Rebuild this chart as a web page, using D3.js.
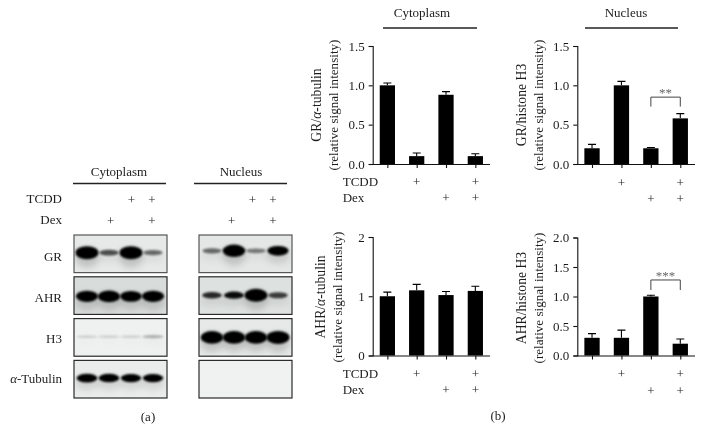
<!DOCTYPE html>
<meta charset="utf-8">
<style>
    body { margin: 0; background: #fff; }
    svg { display: block; filter: blur(0.3px); }
    text { font-family: "Liberation Serif", serif; font-size: 13px; fill: #1c1c1c; }
    .domain, .tick line { stroke: #111; stroke-width: 1.1; }
</style>
<script src="https://d3js.org/d3.v7.min.js"></script>
<div id="fig"></div>
<script>
// bar chart values
const grCyto = [1.0, 0.1, 0.88, 0.1];
const grCytoErr = [0.03, 0.04, 0.04, 0.03];
const grNuc = [0.2, 1.0, 0.2, 0.58];
const grNucErr = [0.05, 0.05, 0.01, 0.06];
const ahrCyto = [1.0, 1.1, 1.02, 1.09];
const ahrCytoErr = [0.07, 0.1, 0.06, 0.08];
const ahrNuc = [0.3, 0.3, 1.0, 0.2];
const ahrNucErr = [0.07, 0.13, 0.02, 0.08];
const lanes = [0, 1, 2, 3];
const tcdd = ["", "+", "", "+"];
const dex = ["", "", "+", "+"];
const tcddBlot = ["", "", "+", "+"];
const dexBlot = ["", "+", "", "+"];
const ticks15 = [0, 0.5, 1, 1.5];
const ticks2 = [0, 1, 2];
const ticks20 = [0, 0.5, 1, 1.5, 2];

// blot band strength per lane (0 = nothing, 1 = saturated)
const blotNames = ["GR", "AHR", "H3", "Tubulin"];
const cytoBands = [[1, 0.35, 1, 0.3], [0.85, 0.9, 0.8, 0.85], [0.04, 0.04, 0.04, 0.12], [0.62, 0.6, 0.56, 0.56]];
const nucBands = [[0.3, 0.95, 0.25, 0.7], [0.42, 0.48, 1, 0.38], [0.96, 0.96, 0.96, 1], [0, 0, 0, 0]];
const cytoBack = ["#e6e9e8", "#d8dcdb", "#eff1f0", "#e9ecea"];
const nucBack = ["#e4e7e6", "#dde1df", "#e6e9e8", "#f0f2f1"];

var svg = d3.select("#fig").append("svg").attr("width", 704).attr("height", 442);

var defs = svg.append("defs");
defs.append("filter").attr("id", "soft").attr("x", "-30%").attr("y", "-60%").attr("width", "160%").attr("height", "220%")
    .append("feGaussianBlur").attr("stdDeviation", 1.1);
defs.append("filter").attr("id", "softer").attr("x", "-30%").attr("y", "-60%").attr("width", "160%").attr("height", "220%")
    .append("feGaussianBlur").attr("stdDeviation", 3);

const bandH = d3.scaleLinear().domain([0, 1]).range([2, 13]);
const bandW = d3.scaleLinear().domain([0, 0.3, 1]).range([20, 17, 21]);
const bandO = d3.scaleLinear().domain([0, 0.3, 0.5, 1]).range([0.1, 0.55, 1, 1]);

function label(x, y, txt, anchor) {
    return svg.append("text").attr("x", x).attr("y", y).attr("text-anchor", anchor || "middle").text(txt);
}

function header(txt, cx, y, x0, x1, lineY) {
    label(cx, y, txt);
    svg.append("line").attr("x1", x0).attr("x2", x1).attr("y1", lineY).attr("y2", lineY)
        .attr("stroke", "#222").attr("stroke-width", 1.6);
}

// one column of blots
function blotColumn(id, bands, back, x0, x1, laneX, centres) {
    const lane = d3.scalePoint().domain(lanes).range(laneX);
    const rowY = d3.scaleBand().domain(blotNames).range([235, 398]).paddingInner(0.1);
    blotNames.forEach(function (name, r) {
        const g = svg.append("g");
        const top = rowY(name), h = rowY.bandwidth();
        const clip = id + r;
        defs.append("clipPath").attr("id", clip).append("rect").attr("x", x0).attr("y", top).attr("width", x1 - x0).attr("height", h);
        g.append("rect").attr("x", x0).attr("y", top).attr("width", x1 - x0).attr("height", h).attr("fill", back[r]);
        const inner = g.append("g").attr("clip-path", "url(#" + clip + ")");
        // smear around the strong bands
        inner.selectAll("ellipse.smear").data(bands[r]).join("ellipse").attr("class", "smear")
            .attr("cx", (d, i) => lane(i)).attr("cy", top + h * centres[r] + 5)
            .attr("rx", 12).attr("ry", d => 3 + 7 * d)
            .attr("fill", "#555").attr("opacity", d => 0.25 * d).attr("filter", "url(#softer)");
        inner.selectAll("ellipse.band").data(bands[r]).join("ellipse").attr("class", "band")
            .attr("cx", (d, i) => lane(i)).attr("cy", top + h * centres[r])
            .attr("rx", d => bandW(d) / 2 + 1).attr("ry", d => bandH(d) / 2)
            .attr("fill", "#050505").attr("opacity", d => d == 0 ? 0 : bandO(d)).attr("filter", "url(#soft)");
        g.append("rect").attr("x", x0).attr("y", top).attr("width", x1 - x0).attr("height", h)
            .attr("fill", "none").attr("stroke", r == 0 ? "#555" : "#2a2a2a").attr("stroke-width", 1.2);
    });
}

// bar panel with the +/- rows below it
function barPanel(o) {
    const g = svg.append("g");
    const x = d3.scaleBand().domain(lanes).range([o.left, o.right]).paddingInner(0.48).paddingOuter(0.24);
    const y = d3.scaleLinear().domain([0, o.max]).range([o.bottom, o.top]);
    g.selectAll("rect").data(o.values).join("rect")
        .attr("x", (d, i) => x(i)).attr("y", d => y(d))
        .attr("width", x.bandwidth()).attr("height", d => y(0) - y(d)).attr("fill", "#000");
    const cx = i => x(i) + x.bandwidth() / 2;
    g.selectAll("path.err").data(o.err).join("path").attr("class", "err")
        .attr("d", (d, i) => {
            const t = y(o.values[i] + d);
            return `M${cx(i)},${y(o.values[i])}V${t}M${cx(i) - 4},${t}H${cx(i) + 4}`;
        }).attr("stroke", "#000").attr("stroke-width", 1.1).attr("fill", "none");
    g.append("g").attr("transform", `translate(${o.left},0)`)
        .call(d3.axisLeft(y).tickValues(o.ticks).tickFormat(d3.format(o.fmt)).tickSize(4).tickPadding(4))
        .call(a => a.selectAll("text").style("font-size", "13px"));
    const xAxis = d3.scalePoint().domain(lanes).range([cx(0), cx(3)]);
    g.append("g").attr("transform", `translate(0,${o.bottom})`)
        .call(d3.axisBottom(xAxis).tickFormat("").tickSize(4).tickSizeOuter(0))
        .call(a => a.select(".domain").attr("d", `M${o.left},0.5H${o.right}`));

    // y titles
    const t1 = svg.append("text").attr("text-anchor", "middle").style("font-size", "13.7px")
        .attr("transform", `translate(${o.titleX},${o.titleY}) rotate(-90)`);
    t1.append("tspan").text(o.title[0]);
    if (o.title[1]) {
        t1.append("tspan").style("font-style", "italic").text("α");
        t1.append("tspan").text(o.title[1]);
    }
    svg.append("text").attr("text-anchor", "middle").style("font-size", "13.1px")
        .attr("transform", `translate(${o.titleX + 17},${o.titleY}) rotate(-90)`)
        .text("(relative signal intensity)");

    // treatment rows
    [[tcdd, "TCDD", o.rowY[0]], [dex, "Dex", o.rowY[1]]].forEach(function (row) {
        if (o.rowLabels) label(o.left - 30, row[2] + 4, row[1], "start");
        g.selectAll(null).data(row[0]).join("text").attr("text-anchor", "middle")
            .attr("x", (d, i) => cx(i)).attr("y", row[2] + 4).text(d => d);
    });

    // significance bracket
    if (o.sig) {
        const yb = y(o.sig.at), yl = y(o.sig.low);
        g.append("path").attr("d", `M${cx(2)},${yl}V${yb}H${cx(3)}V${yl}`).attr("fill", "none").attr("stroke", "#444").attr("stroke-width", 1);
        label((cx(2) + cx(3)) / 2, yb, o.sig.text).style("fill", "#666");
    }
}

// (a) blots
header("Cytoplasm", 119, 176, 73, 166, 183.5);
header("Nucleus", 241, 176, 194, 287, 183.5);
label(62, 203, "TCDD", "end");
label(62, 224, "Dex", "end");
[[90, 152], [211, 273]].forEach(function (range) {
    const sc = d3.scalePoint().domain(lanes).range(range);
    svg.selectAll(null).data(tcddBlot).join("text").attr("text-anchor", "middle")
        .attr("x", (d, i) => sc(i)).attr("y", 204).text(d => d);
    svg.selectAll(null).data(dexBlot).join("text").attr("text-anchor", "middle")
        .attr("x", (d, i) => sc(i)).attr("y", 225).text(d => d);
});

blotColumn("c", cytoBands, cytoBack, 74, 167, [87, 153], [0.47, 0.52, 0.48, 0.47]);
blotColumn("n", nucBands, nucBack, 199, 292, [212, 278], [0.42, 0.49, 0.5, 0.5]);

label(62, 261, "GR", "end");
label(62, 302, "AHR", "end");
label(62, 343, "H3", "end");
var tub = svg.append("text").attr("x", 62).attr("y", 383).attr("text-anchor", "end");
tub.append("tspan").style("font-style", "italic").text("α");
tub.append("tspan").text("-Tubulin");
label(148, 421, "(a)");

// (b) bars
header("Cytoplasm", 422, 17, 383, 477, 28);
header("Nucleus", 626, 17, 585, 678, 28);

barPanel({ left: 372.7, right: 490, top: 46, bottom: 164, max: 1.5, values: grCyto, err: grCytoErr,
    ticks: ticks15, fmt: ".1f", title: ["GR/", "-tubulin"], titleX: 321, titleY: 105, rowY: [182, 198], rowLabels: true });
barPanel({ left: 577.3, right: 695, top: 46, bottom: 164, max: 1.5, values: grNuc, err: grNucErr,
    ticks: ticks15, fmt: ".1f", title: ["GR/histone H3"], titleX: 526, titleY: 105, rowY: [183, 199],
    sig: { at: 0.85, low: 0.73, text: "**" } });
barPanel({ left: 372.7, right: 490, top: 237, bottom: 355.5, max: 2, values: ahrCyto, err: ahrCytoErr,
    ticks: ticks2, fmt: "d", title: ["AHR/", "-tubulin"], titleX: 325, titleY: 297, rowY: [374, 390], rowLabels: true });
barPanel({ left: 577.3, right: 695, top: 237.5, bottom: 355.5, max: 2, values: ahrNuc, err: ahrNucErr,
    ticks: ticks20, fmt: ".1f", title: ["AHR/histone H3"], titleX: 526, titleY: 298, rowY: [374, 391],
    sig: { at: 1.28, low: 1.11, text: "***" } });

label(498, 420, "(b)");
</script>
